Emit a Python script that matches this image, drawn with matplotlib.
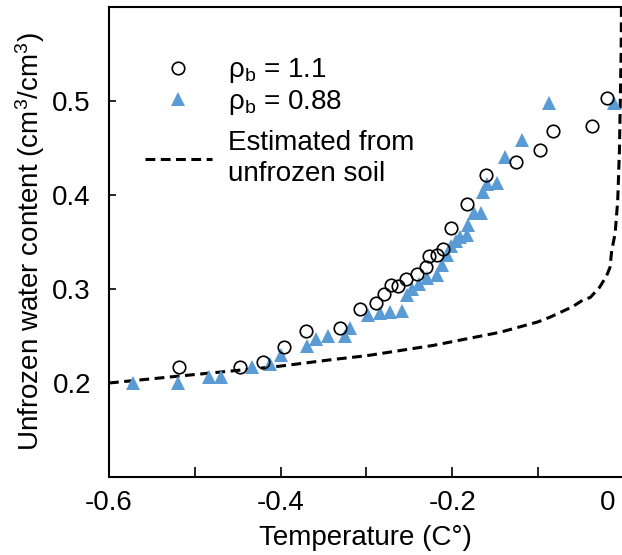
import matplotlib
matplotlib.use("Agg")
import matplotlib.pyplot as plt
import numpy as np

plt.rcParams['font.family'] = ['Liberation Sans', 'DejaVu Sans']
plt.rcParams['mathtext.fontset'] = 'custom'
plt.rcParams['mathtext.rm'] = 'Liberation Sans'
plt.rcParams['mathtext.it'] = 'Liberation Sans'
plt.rcParams['mathtext.bf'] = 'Liberation Sans:bold'

# rho_b = 1.1 (open circles)
t_circ = [-0.518, -0.447, -0.421, -0.396, -0.370, -0.331, -0.307, -0.289, -0.279, -0.271,
          -0.263, -0.254, -0.241, -0.230, -0.227, -0.218, -0.211, -0.201, -0.183, -0.161,
          -0.126, -0.098, -0.082, -0.037, -0.020]
w_circ = [0.217, 0.217, 0.222, 0.238, 0.255, 0.259, 0.279, 0.285, 0.295, 0.304,
          0.303, 0.311, 0.316, 0.323, 0.335, 0.336, 0.343, 0.365, 0.390, 0.421,
          0.435, 0.448, 0.468, 0.473, 0.503]

# rho_b = 0.88 (blue triangles)
t_tri = [-0.572, -0.519, -0.483, -0.469, -0.433, -0.412, -0.399, -0.369, -0.359, -0.345,
         -0.325, -0.319, -0.298, -0.284, -0.273, -0.258, -0.253, -0.247, -0.239, -0.229,
         -0.218, -0.212, -0.206, -0.201, -0.195, -0.191, -0.183, -0.182, -0.175, -0.166,
         -0.164, -0.159, -0.148, -0.138, -0.118, -0.087, -0.011]
w_tri = [0.200, 0.200, 0.206, 0.206, 0.217, 0.220, 0.230, 0.239, 0.247, 0.250,
         0.250, 0.259, 0.272, 0.274, 0.276, 0.277, 0.294, 0.300, 0.305, 0.312,
         0.315, 0.326, 0.336, 0.346, 0.351, 0.355, 0.357, 0.368, 0.381, 0.381,
         0.403, 0.412, 0.413, 0.440, 0.459, 0.498, 0.498]

# Estimated from unfrozen soil (dashed curve)
t_est = [-0.6, -0.5, -0.455, -0.4, -0.339, -0.3, -0.222, -0.144, -0.1, -0.086, -0.06,
         -0.048, -0.039, -0.028, -0.02, -0.016, -0.014, -0.010, -0.007, -0.005, -0.004,
         -0.003, -0.0025]
w_est = [0.200, 0.209, 0.213, 0.218, 0.225, 0.229, 0.240, 0.254, 0.265, 0.270, 0.281,
         0.288, 0.291, 0.302, 0.314, 0.323, 0.341, 0.359, 0.394, 0.447, 0.500,
         0.553, 0.620]

x_major = [-0.6, -0.4, -0.2]
x_major_labels = ['-0.6', '-0.4', '-0.2']
x_minor = [-0.5, -0.3, -0.1]
y_ticks = [0.2, 0.3, 0.4, 0.5]
y_labels = ['0.2', '0.3', '0.4', '0.5']

blue = '#5B9BD5'
FS = 20

fig = plt.figure(figsize=(6.22, 5.55), dpi=100)
ax = fig.add_axes([109/622, 1-477/555, (622-109)/622, (477-7)/555])

l_est, = ax.plot(t_est, w_est, color='black', lw=2.2, dashes=(3.2, 1.8), zorder=2)
l_tri, = ax.plot(t_tri, w_tri, linestyle='none', marker='^', markersize=9.5, color=blue,
                 markeredgewidth=0, zorder=3)
l_circ, = ax.plot(t_circ, w_circ, linestyle='none', marker='o', markersize=9,
                  markerfacecolor='none', markeredgecolor='black', markeredgewidth=1.2, zorder=4)

ax.set_xlim(-0.6, -0.002)
ax.set_ylim(0.1, 0.6)

ax.set_xticks(x_major)
ax.set_xticklabels(x_major_labels)
ax.set_xticks(x_minor, minor=True)
ax.set_yticks(y_ticks)
ax.set_yticklabels(y_labels)
ax.tick_params(axis='both', which='both', direction='in', labelsize=FS, width=1.2)
ax.tick_params(axis='x', which='both', length=7, pad=9)
ax.tick_params(axis='y', which='both', length=5, pad=13)

ax.annotate('0', xy=(1, 0), xycoords='axes fraction', xytext=(-5, -9),
            textcoords='offset points', ha='right', va='top', fontsize=FS)

for s in ['left', 'bottom', 'top']:
    ax.spines[s].set_linewidth(1.5)
ax.spines['right'].set_visible(False)

ax.set_xlabel('Temperature (C°)', fontsize=FS, labelpad=7)
ax.set_ylabel(r'Unfrozen water content (cm$^{3}$/cm$^{3}$)', fontsize=FS, labelpad=4)

leg1 = ax.legend([l_circ, l_tri], [r'ρ$_{\mathrm{b}}$ = 1.1', r'ρ$_{\mathrm{b}}$ = 0.88'],
                 loc='upper left', bbox_to_anchor=(0.07, 0.895), frameon=False,
                 fontsize=FS, handlelength=2.4, handletextpad=0.58, labelspacing=0.1,
                 borderpad=0, borderaxespad=0)
ax.add_artist(leg1)
leg2 = ax.legend([l_est], ['Estimated from\nunfrozen soil'],
                 loc='upper left', bbox_to_anchor=(0.07, 0.738), frameon=False,
                 fontsize=FS, handlelength=2.4, handletextpad=0.58,
                 borderpad=0, borderaxespad=0)
for t in leg2.get_texts():
    t.set_linespacing(1.25)

fig.savefig('out.png', dpi=100)
